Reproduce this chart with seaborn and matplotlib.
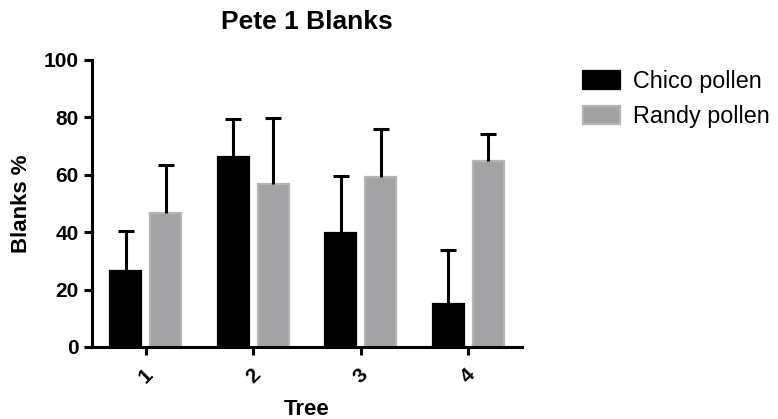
import numpy as np
import pandas as pd
import seaborn as sns
from matplotlib import pyplot as plt
from matplotlib.patches import Patch

trees = ["1", "2", "3", "4"]
chico_mean = [26.5, 66.2, 39.6, 15.1]
chico_err = [14.0, 13.1, 19.9, 18.5]
randy_mean = [46.8, 56.8, 59.3, 64.8]
randy_err = [16.5, 23.1, 16.8, 9.4]
groups = ["Chico pollen", "Randy pollen"]

colors = {"Chico pollen": "#000000", "Randy pollen": "#a2a2a6"}
edges = {"Chico pollen": "#000000", "Randy pollen": "#b4b4b4"}


def build_frame():
    df = pd.DataFrame(
        {
            "tree": trees * 2,
            "pollen": [groups[0]] * 4 + [groups[1]] * 4,
            "blanks": chico_mean + randy_mean,
            "err": chico_err + randy_err,
        }
    )
    return df


def plot_blanks(df):
    sns.set_style("ticks")
    plt.rcParams["font.family"] = ["Liberation Sans", "DejaVu Sans"]
    for key in ["text.color", "axes.labelcolor", "xtick.color", "ytick.color", "axes.edgecolor"]:
        plt.rcParams[key] = "black"

    fig = plt.figure(figsize=(7.78, 4.19), dpi=100)
    ax = fig.add_axes([0.118, 0.172, 0.553, 0.685])

    sns.barplot(
        data=df,
        x="tree",
        y="blanks",
        hue="pollen",
        order=trees,
        hue_order=groups,
        palette=colors,
        errorbar=None,
        width=0.744,
        gap=0.22,
        legend=False,
        ax=ax,
    )

    # error bars (upper only), placed on the bar centres
    for bars, grp in zip(ax.containers, groups):
        sub = df[df["pollen"] == grp]
        xs = [b.get_x() + b.get_width() / 2 for b in bars]
        for b in bars:
            b.set_edgecolor(edges[grp])
            b.set_linewidth(1.6)
        _, caps, _ = ax.errorbar(
            xs,
            sub["blanks"].values,
            yerr=[np.zeros(len(xs)), sub["err"].values],
            fmt="none",
            ecolor="black",
            elinewidth=2.2,
            capsize=5.8,
            capthick=2.2,
            zorder=1,
        )
        caps[0].set_visible(False)  # no cap at the bar top

    ax.set_ylim(0, 100)
    ax.set_xlim(-0.5, 3.5)
    ax.set_yticks([0, 20, 40, 60, 80, 100])
    sns.despine(ax=ax)
    for side in ["left", "bottom"]:
        ax.spines[side].set_linewidth(2.2)
    ax.tick_params(width=2.2, length=6, labelsize=15)
    ax.tick_params(axis="x", pad=7)
    for lab in ax.get_xticklabels() + ax.get_yticklabels():
        lab.set_fontweight("bold")
    for lab in ax.get_xticklabels():
        lab.set_rotation(45)
        lab.set_ha("center")
        lab.set_va("top")

    ax.set_xlabel("Tree", fontsize=16, fontweight="bold", labelpad=9)
    ax.set_ylabel("Blanks %", fontsize=16, fontweight="bold", labelpad=8)
    ax.set_title("Pete 1 Blanks", fontsize=19, fontweight="bold", pad=22)

    handles = [
        Patch(facecolor=colors[g], edgecolor=edges[g], linewidth=1.6, label=g)
        for g in groups
    ]
    fig.legend(
        handles=handles,
        loc="upper left",
        bbox_to_anchor=(0.722, 0.882),
        frameon=False,
        fontsize=16.8,
        handlelength=1.6,
        handleheight=0.8,
        handletextpad=0.55,
        labelspacing=0.5,
    )
    return fig


def main():
    df = build_frame()
    fig = plot_blanks(df)
    fig.savefig("out.png", dpi=100)


if __name__ == "__main__":
    main()
